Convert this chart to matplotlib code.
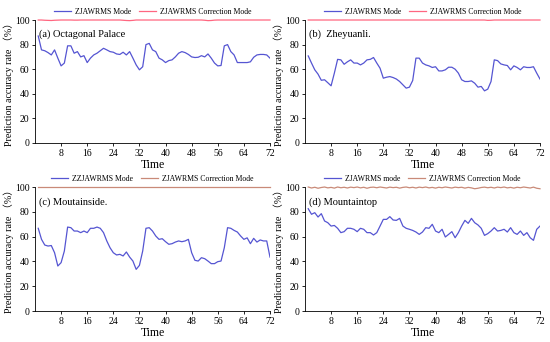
import matplotlib

matplotlib.use("Agg")
import matplotlib.pyplot as plt
import numpy as np

SERIF = ["Liberation Serif", "Noto Sans CJK SC", "DejaVu Sans"]
plt.rcParams["font.family"] = SERIF

BLUE = "#5555d2"
PINK = "#ff6680"
BROWN = "#c98a78"

t = np.arange(1, 73)

octagonal = [87, 75.7, 75, 73.5, 71.6, 75.7, 69, 62.7, 65, 79, 79, 73, 74.3, 70, 71, 65.4,
             69, 71.6, 73, 75, 77, 75.7, 74.3, 73.8, 72.4, 72, 73.8, 71.6, 74.3, 69, 63.5, 59.5,
             62, 80, 81, 75.7, 74.3, 69, 67.6, 65.4, 67, 67.6, 70, 73, 74.3, 73.5, 72, 70,
             69.5, 69.7, 71, 70, 72.4, 69, 65, 62.7, 63, 79, 80, 74.3, 71.6, 65.4, 65.4, 65.4,
             65.4, 66, 69.7, 71.6, 72, 72, 71.6, 69]
octagonal_corr = [100, 100, 99.8, 99.7, 99.6, 99.8, 99.9, 100, 100, 100, 100, 99.9, 99.9, 100, 100, 100,
                  100, 100, 100, 100, 100, 100, 100, 100, 100, 100, 99.8, 99.6, 99.5, 99.7, 100, 100,
                  100, 100, 100, 100, 100, 100, 100, 100, 100, 100, 100, 100, 100, 100, 100, 100,
                  100, 100, 100, 99.8, 99.5, 99.6, 99.9, 100, 100, 100, 100, 100, 100, 100, 100, 100,
                  100, 100, 100, 100, 100, 100, 100, 100]

zheyuanli = [70.8, 65, 59.5, 56, 51, 51.4, 49, 46.5, 56.8, 68, 67.6, 64, 66, 67.6, 65, 65,
             63.5, 65, 67.6, 68, 69.5, 65, 60.8, 52.7, 53.5, 54, 53.2, 52, 50, 47.3, 44.6, 45.4,
             50.8, 69, 69, 65, 63.5, 62.7, 61.4, 62, 58.6, 58.6, 59.5, 61.6, 61.6, 60, 56.8, 51.4,
             50, 50, 50.5, 48.6, 45.4, 46, 42.4, 43.8, 50, 67.6, 67, 64.3, 63.5, 63, 59.5, 62.7,
             61.4, 59.5, 62, 61.4, 61.4, 62, 56.8, 52]
zheyuanli_corr = [100, 100, 100, 100, 100, 100, 100, 100, 100, 100, 100, 100, 100, 100, 100, 100,
                  100, 100, 100, 100, 100, 100, 100, 100, 100, 100, 100, 100, 100, 100, 100, 100,
                  100, 100, 100, 100, 100, 100, 100, 100, 100, 100, 100, 100, 100, 100, 100, 100,
                  100, 100, 100, 100, 100, 100, 100, 99.7, 99.8, 100, 100, 100, 100, 100, 100, 100,
                  100, 100, 100, 100, 100, 100, 100, 100]

mountainside = [66.7, 57.8, 53.2, 52.4, 52.8, 47, 36.3, 39, 48.4, 67.7, 67.2, 64.5, 64.5, 63.2, 64.5, 63.2,
                66.7, 66.7, 67.7, 66.7, 63.2, 56.5, 51, 47, 45.2, 45.7, 44.4, 47.6, 43.5, 40.3, 33.6, 36.8,
                48.4, 66.7, 67.2, 64.5, 60.5, 57.8, 58.3, 55.9, 53.8, 54.3, 55.6, 56.5, 55.9, 56.5, 57.8, 47,
                40.9, 40.3, 43, 42.2, 40.3, 38.2, 38.2, 39.8, 40.3, 51, 67.2, 66.7, 65, 63.7, 60.5, 57.8,
                59, 54.3, 58.6, 55.6, 57.3, 56.5, 56.5, 43.5]
mountainside_corr = [100] * 72

mountaintop = [82.5, 78, 79.3, 75.8, 78.5, 72.6, 71.2, 68.5, 69, 66.7, 63.2, 64, 66.7, 66.7, 65.9, 64,
               66.7, 65.9, 63.2, 63.2, 61.3, 63.2, 68.5, 73.9, 73.9, 76.1, 73.4, 73.1, 74.7, 68.5, 66.7, 65.9,
               65, 63.7, 61.8, 63.7, 67.2, 66.7, 69.9, 64.5, 63.2, 65.9, 59.7, 61.8, 64, 59.1, 63.2, 68.5,
               73.1, 70.7, 74.7, 71.2, 69.4, 66.7, 61, 62.4, 64.5, 67.2, 64.5, 65, 65.9, 63.7, 67.2, 63.2,
               61.8, 64.5, 61, 63.2, 59.1, 57, 65.9, 68.5]
mountaintop_corr = [100, 99.2, 99.8, 99.0, 99.6, 100, 99.3, 99.7, 99.1, 100, 99.4, 99.8, 99.2, 99.9, 99.5, 100,
                    99.3, 99.8, 99.0, 99.7, 99.9, 99.4, 100, 99.6, 99.2, 99.9, 99.5, 99.8, 99.1, 99.7, 100, 99.4,
                    99.8, 99.2, 99.9, 99.5, 100, 99.3, 99.7, 99.1, 99.8, 99.4, 100, 99.6, 99.2, 99.9, 99.5, 99.8,
                    99.1, 99.7, 99.3, 98.6, 99.0, 99.6, 99.9, 99.4, 99.8, 99.2, 99.9, 99.5, 100, 99.3, 99.7, 99.1,
                    99.8, 99.4, 100, 99.6, 99.2, 99.9, 99.0, 98.6]

xticks = [8, 16, 24, 32, 40, 48, 56, 64, 72]
yticks = [0, 20, 40, 60, 80, 100]

panels = [
    ("(a) Octagonal Palace", octagonal, octagonal_corr, "ZJAWRMS Mode", PINK),
    ("(b)  Zheyuanli.", zheyuanli, zheyuanli_corr, "ZJAWRMS Mode", PINK),
    ("(c) Moutainside.", mountainside, mountainside_corr, "ZZJAWRMS Mode", BROWN),
    ("(d) Mountaintop", mountaintop, mountaintop_corr, "ZJAWRMS mode", BROWN),
]
rects = [
    [0.0636, 0.5819, 0.4273, 0.3596],
    [0.5545, 0.5819, 0.4273, 0.3596],
    [0.0636, 0.0906, 0.4273, 0.3626],
    [0.5545, 0.0906, 0.4273, 0.3626],
]

fig = plt.figure(figsize=(5.5, 3.42), dpi=100)
for rect, (title, base, corr, lab, rc) in zip(rects, panels):
    ax = fig.add_axes(rect)
    ax.plot(t, base, color=BLUE, lw=0.9, label=lab)
    ax.plot(t, corr, color=rc, lw=0.9, label="ZJAWRMS Correction Mode", clip_on=False)
    ax.set_xlim(0, 72); ax.set_ylim(0, 100)
    ax.set_xticks(xticks); ax.set_yticks(yticks)
    ax.tick_params(labelsize=7, length=2.5, width=0.6, pad=1.5)
    ax.spines[["top", "right"]].set_visible(False)
    for s in ["left", "bottom"]:
        ax.spines[s].set_linewidth(0.6)
    ax.text(0.015, 0.86, title, transform=ax.transAxes, fontsize=7.5)
    ax.set_xlabel("Time", fontsize=8.5, labelpad=1)
    ax.set_ylabel("Prediction accuracy rate （%）", fontsize=7.2, labelpad=0.5)
    ax.legend(loc="lower center", bbox_to_anchor=(0.5, 1.02), ncol=2, frameon=False,
              fontsize=5.6, handlelength=2.2, columnspacing=1.0, handletextpad=0.5,
              borderaxespad=0, borderpad=0.2)

fig.savefig("out.png", dpi=100)
